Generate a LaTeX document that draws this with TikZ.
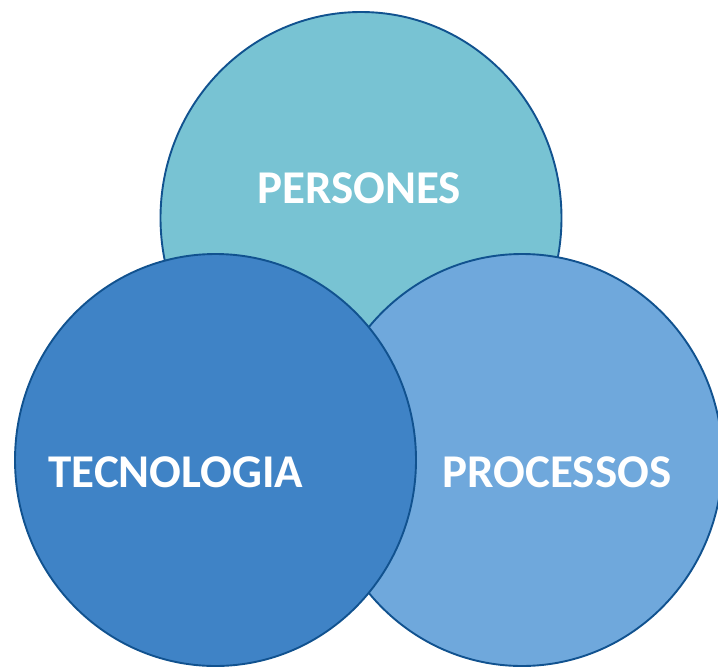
\documentclass[tikz,border=0pt]{standalone}
\usepackage{fontspec}
\setmainfont{Carlito}
\usetikzlibrary{shapes.geometric}

\definecolor{persfill}{HTML}{78C3D3}
\definecolor{tecfill}{HTML}{3F83C6}
\definecolor{procfill}{HTML}{6FA8DC}
\definecolor{rimblue}{HTML}{11528F}

\begin{document}
\begin{tikzpicture}[x=1pt, y=-1pt]
        % Define styles
        \tikzstyle{circ} = [ellipse, draw=rimblue, line width=1.9pt,
            minimum width=401pt, minimum height=412pt, inner sep=0pt]
        \tikzstyle{label} = [text=white, font=\fontsize{47}{50}\selectfont\bfseries]

        \useasboundingbox (0,0) rectangle (718,667);

        % Circles
        \node [circ, fill=persfill] (persones) at (361,218) {};
        \node [circ, fill=procfill] (processos) at (522,460) {};
        \node [circ, fill=tecfill] (tecnologia) at (215.5,460) {};

        % Labels
        \node [label] (perstext) at (359,188) {PERSONES};
        \node [label] (tectext) at (176,472) {TECNOLOGIA};
        \node [label] (proctext) at (557,472) {PROCESSOS};
    \end{tikzpicture}
\end{document}
